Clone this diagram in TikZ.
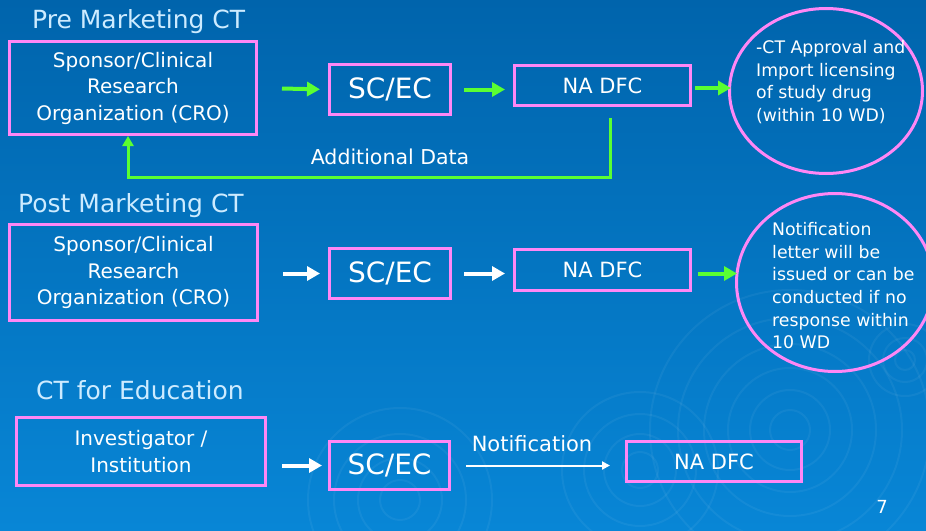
\documentclass[tikz,border=0pt]{standalone}
\usepackage{fontspec}
\setmainfont{DejaVu Sans}
\usetikzlibrary{arrows.meta,shapes.geometric}
\definecolor{bgtop}{RGB}{0,100,172}
\definecolor{bgbot}{RGB}{8,134,214}
\definecolor{pinkb}{RGB}{255,135,245}
\definecolor{greena}{RGB}{90,255,50}
\definecolor{titlec}{RGB}{205,235,255}
\begin{document}
\begin{tikzpicture}[x=1pt,y=-1pt,
  box/.style={draw=pinkb,line width=3pt,text=white,align=center,inner sep=0pt},
  oval/.style={ellipse,draw=pinkb,line width=3pt,inner sep=0pt},
  title/.style={text=titlec,anchor=west,inner sep=0pt,font=\fontsize{25}{30}\selectfont},
  boxtxt/.style={font=\fontsize{20}{26.5}\selectfont},
  bigtxt/.style={font=\fontsize{28}{32}\selectfont},
  natxt/.style={font=\fontsize{21}{26}\selectfont},
  ovaltxt/.style={text=white,align=left,anchor=north west,inner sep=0pt,font=\fontsize{17.3}{22.7}\selectfont},
  garrow/.style={draw=greena,line width=4pt,-{Triangle[length=13pt,width=14pt]}},
  warrow/.style={draw=white,line width=4pt,-{Triangle[length=13pt,width=14pt]}},
  thinarrow/.style={draw=white,line width=2pt,-{Triangle[length=8pt,width=8pt]}},
  swirl/.style={draw=white,opacity=0.05,line width=2pt}
]
\shade[top color=bgtop,bottom color=bgbot] (0,0) rectangle (926,530);
\useasboundingbox (0,0) rectangle (926,530);
% faint background swirls
\foreach \r in {20,40,62,86,112,140}{\draw[swirl] (790,430) circle (\r);}
\foreach \r in {18,36,56,78}{\draw[swirl] (640,470) circle (\r);}
\foreach \r in {20,42,66,92}{\draw[swirl] (400,500) circle (\r);}
\foreach \r in {10,22,36}{\draw[swirl] (905,360) circle (\r);}

% Row 1
\node[title] (t1) at (32,22) {Pre Marketing CT};
\node[box,boxtxt,minimum width=247pt,minimum height=93pt] (b1) at (133,88) {Sponsor/Clinical\\Research\\Organization (CRO)};
\node[box,bigtxt,minimum width=121pt,minimum height=50pt] (sc1) at (390,89.5) {SC/EC};
\node[box,natxt,minimum width=176pt,minimum height=40pt] (na1) at (602.5,85.5) {NA DFC};
\node[oval,minimum width=193pt,minimum height=165pt] (e1) at (826,91) {};
\node[ovaltxt] (e1t) at (756,40) {-CT Approval and\\Import licensing\\of study drug\\(within 10 WD)};
\draw[garrow,shorten <=24pt,shorten >=8pt] (b1.east) -- (sc1.west);
\draw[garrow,shorten <=12pt,shorten >=8pt] (sc1.east) -- (na1.west |- sc1.east);
\draw[garrow,shorten <=3pt,shorten >=-3pt] (na1.east |- 0,88) -- (e1.west |- 0,88);
\coordinate (fb1) at (610,118);
\coordinate (fb2) at (128,177);
\draw[draw=greena,line width=3pt,-{Triangle[length=10pt,width=11pt]}] (fb1) |- (fb2) -- (fb2 |- b1.south);
\node[text=white,font=\fontsize{20.5}{24}\selectfont,inner sep=0pt] (ad) at (390,157) {Additional Data};

% Row 2
\node[title] (t2) at (18,206) {Post Marketing CT};
\node[box,boxtxt,minimum width=248pt,minimum height=96pt] (b2) at (133.5,272.5) {Sponsor/Clinical\\Research\\Organization (CRO)};
\node[box,bigtxt,minimum width=121pt,minimum height=50pt] (sc2) at (390,273.5) {SC/EC};
\node[box,natxt,minimum width=176pt,minimum height=41pt] (na2) at (602.5,270) {NA DFC};
\node[oval,minimum width=197pt,minimum height=178pt] (e2) at (835,282.5) {};
\node[ovaltxt] (e2t) at (772,222) {Notification\\letter will be\\issued or can be\\conducted if no\\response within\\10 WD};
\draw[warrow,shorten <=24pt,shorten >=8pt] (b2.east |- sc2.east) -- (sc2.west);
\draw[warrow,shorten <=12pt,shorten >=8pt] (sc2.east) -- (na2.west |- sc2.east);
\draw[garrow,shorten <=6pt,shorten >=-2pt] (na2.east |- 0,273.5) -- (e2.west |- 0,273.5);

% Row 3
\node[title] (t3) at (36,390) {CT for Education};
\node[box,boxtxt,minimum width=249pt,minimum height=68pt] (b3) at (141,451.5) {Investigator /\\Institution};
\node[box,bigtxt,minimum width=120pt,minimum height=48pt] (sc3) at (389.5,465.5) {SC/EC};
\node[box,natxt,minimum width=175pt,minimum height=40pt] (na3) at (714,461.5) {NA DFC};
\draw[warrow,shorten <=15pt,shorten >=6pt] (b3.east |- sc3.west) -- (sc3.west);
\draw[thinarrow,shorten <=15pt,shorten >=15pt] (sc3.east) -- (na3.west |- sc3.east);
\node[text=white,font=\fontsize{21}{24}\selectfont,inner sep=0pt] (nt) at (532,444) {Notification};
\node[text=white,font=\fontsize{18}{20}\selectfont,inner sep=0pt] (pg) at (882,507) {7};
\end{tikzpicture}
\end{document}
